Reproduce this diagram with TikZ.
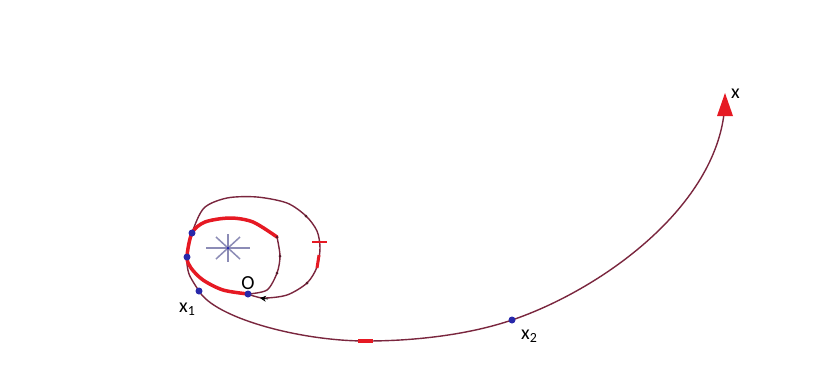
\documentclass[tikz,border=0pt]{standalone}
\usepackage{fontspec}
\setmainfont{Carlito}
\usetikzlibrary{arrows.meta}
\definecolor{trj}{RGB}{122,38,62}
\definecolor{hot}{RGB}{230,25,35}
\definecolor{dotb}{RGB}{40,40,170}
\definecolor{starc}{RGB}{140,140,182}
\begin{document}
\begin{tikzpicture}[x=1bp,y=-1bp,
  thinpath/.style={draw=trj,line width=1.4bp},
  hotpath/.style={draw=hot,line width=3.5bp,line cap=round},
  bdot/.style={circle,fill=dotb,inner sep=0pt,minimum size=7bp},
  tick/.style={circle,fill=trj!70!black,inner sep=0pt,minimum size=3bp},
  starline/.style={draw=starc,line width=1.5bp},
  lbl/.style={font=\fontsize{20}{20}\selectfont,text=black,inner sep=0pt}]
\useasboundingbox (0,0) rectangle (824,382);
\fill[white] (0,0) rectangle (824,382);
% key points
\coordinate (O) at (248,294);
\coordinate (X1) at (199,291);
\coordinate (X2) at (512,320);
\coordinate (B) at (366,341);
\coordinate (L1) at (192,233);
\coordinate (L2) at (187,257);
\coordinate (S) at (228,248);
\coordinate (E) at (724,114);
\coordinate (T) at (725,93);
\coordinate (R) at (277,237);
% star
\draw[starline] (S) ++(-22,0) -- ++(44,0);
\draw[starline] (S) ++(0,-14) -- ++(0,28);
\draw[starline] (S) ++(-12,-11) -- ++(24,22);
\draw[starline] (S) ++(-12,11) -- ++(24,-22);
\fill[dotb] (S) circle (1.5bp);
% inner thin right part
\draw[thinpath] plot[smooth] coordinates {(O) (267,290) (277,273) (280,256) (R)};
% outer loop
\draw[thinpath] plot[smooth] coordinates {(O) (263,298) (287,295) (307,283) (317,267) (320,248) (317,231) (306,216) (287,203) (257,197) (227,198) (204,208) (L1) (L2) (189,274) (X1)};
% long branch
\draw[thinpath] (X1) .. controls (215,318) and (300,341) .. (B)
  .. controls (420,341) and (472.4,333.5) .. (X2)
  .. controls (600,290) and (712,210) .. (E);
% inner thick red loop
\draw[hotpath] plot[smooth] coordinates {(R) (253,222) (230,218) (205,222) (L1) (L2) (191,268) (203,280) (223,290) (O)};
% red marks
\fill[hot] (T) -- (733,116) -- (717,116) -- cycle;
\draw[hot,line width=3.5bp] (358,341) -- (373,341);
\draw[hot,line width=3bp] (319,255) -- (317,268);
\draw[hot,line width=1.3bp] (312,242) -- (327,242);
% small ticks
\node[tick] (k1) at (306,216) {};
\node[tick] (k2) at (280,256) {};
\node[tick] (k3) at (277,273) {};
\node[tick] (k4) at (R) {};
\node[tick] (k5) at (307,283) {};
% black arrow
\draw[-{Stealth[length=6bp,width=6bp]},black,line width=0.8bp] (268,299) -- (260,298);
% blue dots
\node[bdot] (dO) at (O) {};
\node[bdot] (dX1) at (X1) {};
\node[bdot] (dX2) at (X2) {};
\node[bdot] (dL1) at (L1) {};
\node[bdot] (dL2) at (L2) {};
% labels
\node[lbl,anchor=base west] (lx1) at (179,312) {x\textsubscript{1}};
\node[lbl,anchor=base] (lO) at (248,289) {O};
\node[lbl,anchor=base west] (lx2) at (521,339) {x\textsubscript{2}};
\node[lbl,anchor=base west] (lx) at (731,98) {x};
\end{tikzpicture}
\end{document}
